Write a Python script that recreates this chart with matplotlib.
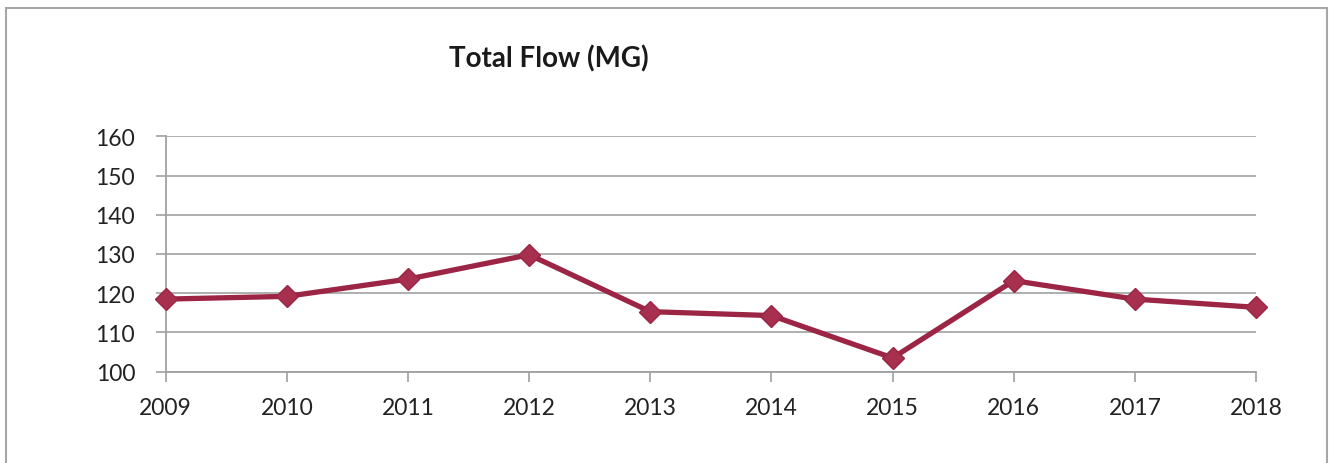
import matplotlib
matplotlib.use('Agg')
import matplotlib.pyplot as plt
from matplotlib.patches import Rectangle

years = [2009, 2010, 2011, 2012, 2013, 2014, 2015, 2016, 2017, 2018]
total_flow = [118.5, 119.2, 123.6, 129.8, 115.3, 114.3, 103.5, 123.2, 118.5, 116.4]
y_ticks = [100, 110, 120, 130, 140, 150, 160]

plt.rcParams['font.family'] = ['Lato', 'DejaVu Sans']

fig = plt.figure(figsize=(13.3, 4.64), dpi=100)
ax = fig.add_axes([0.1246, 0.1968, 0.8198, 0.5073])

# chart border like the Excel chart area
fig.patches.append(Rectangle((0.0045, -0.05), 0.993, 1.03, transform=fig.transFigure,
                             fill=False, edgecolor='#a6a6a6', linewidth=1.5))

ax.plot(years, total_flow, color='#9c2444', linewidth=3.8, marker='D',
        markersize=11, markerfacecolor='#a8304f', markeredgecolor='#9c2444',
        zorder=3, clip_on=False)

ax.set_xlim(years[0], years[-1])
ax.set_ylim(y_ticks[0], y_ticks[-1])
ax.set_xticks(years)
ax.set_yticks(y_ticks)
ax.tick_params(axis='both', labelsize=16.5, colors='#a0a0a0', labelcolor='#222222', length=7, width=1.2)
ax.tick_params(axis='x', pad=11)
ax.tick_params(axis='y', pad=15)
ax.grid(axis='y', color='#a8a8a8', linewidth=1.3)
ax.set_axisbelow(True)
for s in ['top', 'right']:
    ax.spines[s].set_visible(False)
for s in ['left', 'bottom']:
    ax.spines[s].set_color('#a0a0a0')
    ax.spines[s].set_linewidth(1.3)

fig.text(0.413, 0.873, 'Total Flow (MG)', ha='center', va='center', fontsize=20,
         fontweight='bold', color='#1a1a1a')

fig.savefig('out.png', dpi=100)
